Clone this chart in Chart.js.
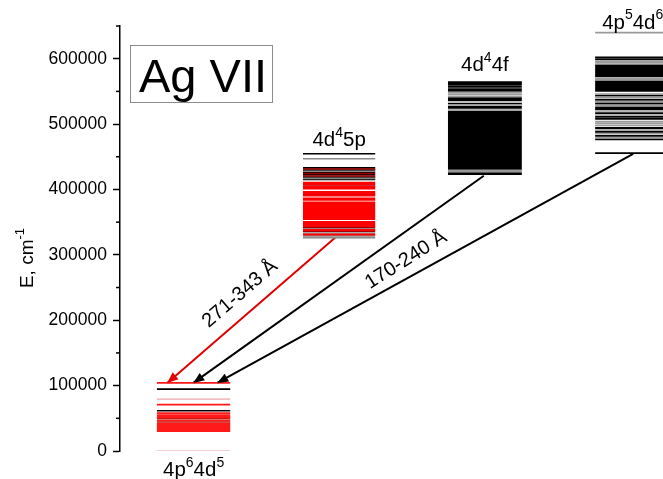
<!DOCTYPE html>
<html>
<head>
<meta charset="utf-8">
<script src="https://cdn.jsdelivr.net/npm/chart.js@4.4.1/dist/chart.umd.min.js"></script>
<style>
  html, body { margin: 0; padding: 0; background: #fff; }
  #wrap { width: 663px; height: 479px; }
</style>
</head>
<body>
<div id="wrap"><canvas id="levels" width="663" height="479"></canvas></div>
<script>
// ---- energy levels, cm-1 ----
const groundRed = [104100, 70900, 57700, 54600, 51600, 46400, 41800, 39300, 36700, 34100, 32600, 31400, 30500];
const groundDark = [49500, 44400];
const groundBlack = [94600, 61500];
const groundPink = [79400, 0];

const d5pBlack = [454600, 433000, 429500, 426200, 422400, 418900, 415400];
const d5pGray = [447000, 427800, 417000, 339500, 333500, 329000, 326200];
const d5pDark = [431200, 424300, 420600, 405300, 392600, 342000, 336000];
const d5pRed = [410200, 408000, 403600, 401500, 396300, 394300, 390600, 386000, 384300, 380000,
  377900, 375800, 373700, 371600, 369500, 367400, 365300, 363200, 361100, 359000,
  356900, 354700, 350300, 348200, 346100, 344300, 338000, 331000];

const d4fBlack = [564000, 562000, 560500, 557100, 553300, 551000, 540000, 538500, 536500, 531000, 526500,
  525000, 518900, 516300, 513700, 511100, 508500, 505900, 503300, 500700, 498100,
  495500, 492900, 490300, 487700, 485100, 482500, 479900, 477300, 474700, 472100,
  469500, 466900, 464300, 461700, 459100, 456500, 453900, 451300, 448700, 446100,
  443500, 440900, 438300, 435700, 433100, 431000, 424800, 423800];
const d4fGray = [548300, 545500, 542000, 529600, 521500, 429300, 427500];

const p5d6Black = [602000, 599000, 589700, 587400, 585000, 582700, 580400, 578000, 575700, 573400,
  565200, 562800, 560500, 558200, 555800, 553500, 551000, 543600, 537200, 531500,
  525500, 522900, 516900, 510900, 508000, 494000, 488300, 482100, 476500, 455700];
const p5d6Gray = [639800, 595900, 593400, 570400, 568200, 546000, 541000, 534500, 528500, 520100,
  513900, 503900, 501000, 497900, 491000, 485200, 479100];

// transitions: upper configuration bottom -> ground top
const transFrom = [326000, 421000, 454600];
const transTo = [104100, 104100, 104100];
const transLabels = ['271-343 Å', '170-240 Å'];

const yTicks = [0, 100000, 200000, 300000, 400000, 500000, 600000];

// ---- layout (x in arbitrary column units 0..100) ----
const cols = {
  ground: [6.8, 20.3],
  d5p: [33.7, 47.0],
  d4f: [60.4, 74.0],
  p5d6: [87.5, 101]
};
const arrowX = [[39.6, 8.7], [67.0, 13.5], [94.5, 17.9]];

function levelSegments(energies, col) {
  const pts = [];
  energies.forEach(e => {
    pts.push({ x: col[0], y: e }, { x: col[1], y: e }, { x: col[1], y: null });
  });
  return pts;
}

function levelSet(energies, col, color, width) {
  return {
    data: levelSegments(energies, col),
    borderColor: color,
    borderWidth: width || 1.6,
    showLine: true,
    spanGaps: false,
    pointRadius: 0
  };
}

const datasets = [
  levelSet(groundPink, cols.ground, '#f0c0c0'),
  levelSet(groundRed, cols.ground, '#ff1a1a', 1.8),
  levelSet(groundDark, cols.ground, '#c01818'),
  levelSet(groundBlack, cols.ground, '#000'),
  levelSet(d5pRed, cols.d5p, '#ff0000', 2),
  levelSet(d5pDark, cols.d5p, '#a00000'),
  levelSet(d5pGray, cols.d5p, '#8a8a8a'),
  levelSet(d5pBlack, cols.d5p, '#000'),
  levelSet(d4fGray, cols.d4f, '#9a9a9a'),
  levelSet(d4fBlack, cols.d4f, '#000', 2),
  levelSet(p5d6Gray, cols.p5d6, '#9a9a9a'),
  levelSet(p5d6Black, cols.p5d6, '#000', 1.8)
];

const arrowColors = ['#e00000', '#000', '#000'];
transFrom.forEach((e, i) => {
  datasets.push({
    data: [{ x: arrowX[i][0], y: e }, { x: arrowX[i][1], y: transTo[i] }],
    borderColor: arrowColors[i],
    borderWidth: 2,
    showLine: true,
    pointRadius: 0,
    arrow: true
  });
});

const FONT = '"Liberation Sans", Arial, sans-serif';

// draws text with superscript parts, parts = [[text, isSup], ...]
function drawRich(ctx, parts, x, y, size, align) {
  const supSize = Math.round(size * 0.66);
  let w = 0;
  parts.forEach(p => {
    ctx.font = (p[1] ? supSize : size) + 'px ' + FONT;
    w += ctx.measureText(p[0]).width;
  });
  let cx = align === 'left' ? x : x - w / 2;
  ctx.textAlign = 'left';
  ctx.textBaseline = 'alphabetic';
  parts.forEach(p => {
    ctx.font = (p[1] ? supSize : size) + 'px ' + FONT;
    ctx.fillText(p[0], cx, p[1] ? y - size * 0.45 : y);
    cx += ctx.measureText(p[0]).width;
  });
}

const decorations = {
  id: 'decorations',
  afterDatasetsDraw(chart) {
    const ctx = chart.ctx;
    ctx.save();
    chart.data.datasets.forEach((ds, i) => {
      if (!ds.arrow) return;
      const pts = chart.getDatasetMeta(i).data;
      const a = pts[0], b = pts[1];
      const ang = Math.atan2(b.y - a.y, b.x - a.x);
      const len = 11, half = 4.5;
      ctx.fillStyle = ds.borderColor;
      ctx.beginPath();
      ctx.moveTo(b.x, b.y);
      ctx.lineTo(b.x - len * Math.cos(ang) + half * Math.sin(ang), b.y - len * Math.sin(ang) - half * Math.cos(ang));
      ctx.lineTo(b.x - len * Math.cos(ang) - half * Math.sin(ang), b.y - len * Math.sin(ang) + half * Math.cos(ang));
      ctx.closePath();
      ctx.fill();
    });
    ctx.restore();
  },
  afterDraw(chart) {
    const ctx = chart.ctx, xs = chart.scales.x, ys = chart.scales.y;
    ctx.save();
    ctx.fillStyle = '#000';

    // minor ticks
    ctx.strokeStyle = '#000';
    ctx.lineWidth = 1.5;
    for (let i = 0; i < yTicks.length; i++) {
      const py = ys.getPixelForValue(yTicks[i] + 50000);
      ctx.beginPath(); ctx.moveTo(ys.right - 4, py); ctx.lineTo(ys.right, py); ctx.stroke();
    }

    // axis title
    ctx.save();
    ctx.translate(33, 258);
    ctx.rotate(-Math.PI / 2);
    drawRich(ctx, [['E, cm', false], ['-1', true]], 0, 0, 19, 'center');
    ctx.restore();

    // configuration labels
    const mid = c => xs.getPixelForValue((c[0] + Math.min(c[1], 100)) / 2);
    drawRich(ctx, [['4p', false], ['6', true], ['4d', false], ['5', true]],
      xs.getPixelForValue((cols.ground[0] + cols.ground[1]) / 2), ys.bottom + 25, 20.5, 'center');
    drawRich(ctx, [['4d', false], ['4', true], ['5p', false]],
      mid(cols.d5p), ys.getPixelForValue(d5pBlack[0]) - 8, 20.5, 'center');
    drawRich(ctx, [['4d', false], ['4', true], ['4f', false]],
      mid(cols.d4f), ys.getPixelForValue(d4fBlack[0]) - 11, 20.5, 'center');
    drawRich(ctx, [['4p', false], ['5', true], ['4d', false], ['6', true]],
      xs.getPixelForValue(cols.p5d6[0]) + 7, ys.getPixelForValue(p5d6Gray[0]) - 4, 20.5, 'left');

    // transition labels, rotated along the arrows
    const arrowPts = chart.data.datasets.filter(d => d.arrow).map(d => {
      const m = chart.getDatasetMeta(chart.data.datasets.indexOf(d)).data;
      return [m[0], m[1]];
    });
    const angOf = p => Math.atan2(p[0].y - p[1].y, p[0].x - p[1].x);
    ctx.font = '20px ' + FONT;
    ctx.textAlign = 'center';
    ctx.textBaseline = 'middle';
    ctx.save();
    ctx.translate(240, 294);
    ctx.rotate(angOf(arrowPts[0]));
    ctx.fillText(transLabels[0], 0, 0);
    ctx.restore();
    ctx.save();
    ctx.translate(406, 260);
    ctx.rotate((angOf(arrowPts[1]) + angOf(arrowPts[2])) / 2);
    ctx.fillText(transLabels[1], 0, 0);
    ctx.restore();

    // ion label box
    ctx.strokeStyle = '#8c8c8c';
    ctx.lineWidth = 1;
    ctx.strokeRect(130.5, 45.5, 142, 57);
    ctx.font = '47px ' + FONT;
    ctx.textAlign = 'center';
    ctx.textBaseline = 'alphabetic';
    ctx.fillText('Ag VII', 203, 92);
    ctx.restore();
  }
};

new Chart(document.getElementById('levels'), {
  type: 'scatter',
  data: { datasets },
  options: {
    responsive: false,
    animation: false,
    devicePixelRatio: 1,
    layout: { padding: { top: 26, bottom: 28, left: 0, right: 0 } },
    plugins: { legend: { display: false }, tooltip: { enabled: false } },
    scales: {
      x: { type: 'linear', min: 0, max: 100, display: false },
      y: {
        type: 'linear',
        min: 0,
        max: 650000,
        afterFit(scale) { scale.width = 120; },
        afterBuildTicks(scale) { scale.ticks = yTicks.map(v => ({ value: v })); },
        border: { display: true, color: '#000', width: 1.5 },
        grid: { drawOnChartArea: false, drawTicks: true, tickLength: 7, color: '#000', tickWidth: 1.5 },
        ticks: { color: '#000', padding: 6, font: { family: FONT, size: 17.5 }, callback: v => String(v) }
      }
    }
  },
  plugins: [decorations]
});
</script>
</body>
</html>
